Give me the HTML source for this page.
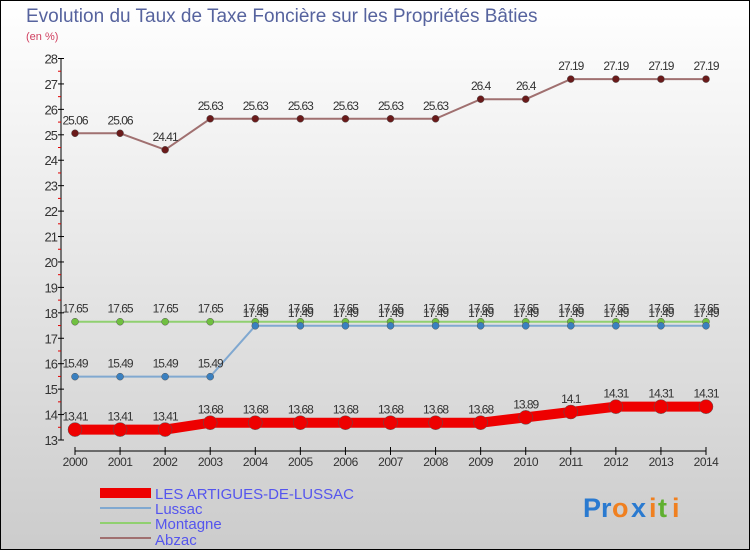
<!DOCTYPE html>
<html><head><meta charset="utf-8"><style>
body{margin:0;padding:0}
#wrap{width:750px;height:550px;position:relative;overflow:hidden}
svg text{font-family:"Liberation Sans",sans-serif}
</style></head><body>
<div id="wrap">
<svg id="chart" width="750" height="550" xmlns="http://www.w3.org/2000/svg">
<defs><linearGradient id="bg" x1="0" y1="0" x2="0" y2="1"><stop offset="0" stop-color="#ffffff"/><stop offset="1" stop-color="#cccccc"/></linearGradient></defs>
<rect x="0.5" y="0.5" width="749" height="549" fill="url(#bg)" stroke="#000"/>
<text x="26" y="22" font-size="19" fill="#56639e">Evolution du Taux de Taxe Foncière sur les Propriétés Bâties</text>
<text x="26" y="40" font-size="11" fill="#d04060">(en %)</text>
<g id="axes"></g><g id="series"></g>
<g>
<rect x="100" y="488" width="51" height="10" fill="#ee0000"/>
<text x="155" y="499" font-size="15" fill="#5555ee">LES ARTIGUES-DE-LUSSAC</text>
<rect x="100" y="507" width="51" height="2" fill="#80a8d0"/>
<text x="155" y="514" font-size="15" fill="#5555ee">Lussac</text>
<rect x="100" y="522" width="51" height="2" fill="#90d070"/>
<text x="155" y="529" font-size="15" fill="#5555ee">Montagne</text>
<rect x="100" y="537" width="51" height="2" fill="#a07070"/>
<text x="155" y="545" font-size="15" fill="#5555ee">Abzac</text>
</g>
<g font-size="27" font-weight="bold">
<text x="583" y="517" fill="#2a7ad0">P</text><text x="601" y="517" fill="#2a7ad0">r</text><text x="612" y="517" fill="#f08020">o</text><text x="631" y="517" fill="#2a7ad0">x</text><text x="649" y="517" fill="#f08020">i</text><text x="658" y="517" fill="#60b030">t</text><text x="672" y="517" fill="#f08020">i</text>
</g>
</svg></div>
<script>
const years=[2000,2001,2002,2003,2004,2005,2006,2007,2008,2009,2010,2011,2012,2013,2014];
const artigues=[13.41,13.41,13.41,13.68,13.68,13.68,13.68,13.68,13.68,13.68,13.89,14.1,14.31,14.31,14.31];
const lussac=[15.49,15.49,15.49,15.49,17.49,17.49,17.49,17.49,17.49,17.49,17.49,17.49,17.49,17.49,17.49];
const montagne=[17.65,17.65,17.65,17.65,17.65,17.65,17.65,17.65,17.65,17.65,17.65,17.65,17.65,17.65,17.65];
const abzac=[25.06,25.06,24.41,25.63,25.63,25.63,25.63,25.63,25.63,26.4,26.4,27.19,27.19,27.19,27.19];
const yTicks=[13,14,15,16,17,18,19,20,21,22,23,24,25,26,27,28];
const NS="http://www.w3.org/2000/svg";
const x=i=>75+i*(706-75)/(years.length-1);
const y=v=>440-(v-13)*(440-58.5)/15;
function mk(tag,attrs,parent){const e=document.createElementNS(NS,tag);for(const k in attrs)e.setAttribute(k,attrs[k]);parent.appendChild(e);return e;}
const ax=document.getElementById('axes');
const yl=mk('line',{x1:61,y1:y(28),x2:61,y2:y(13),stroke:'#000'},ax);


yTicks.forEach(t=>{
 mk('line',{x1:58,x2:64,y1:y(t),y2:y(t),stroke:'#000'},ax);
 if(t<28) mk('line',{x1:58,x2:61,y1:y(t+0.5),y2:y(t+0.5),stroke:'#e00000'},ax);
 const tx=mk('text',{x:57,y:y(t)+5,'font-size':13,'text-anchor':'end',fill:'#333','letter-spacing':'-1'},ax);
 tx.textContent=t;
 
 
});
const xl=mk('line',{x1:x(0),x2:x(14),y1:451,y2:451,stroke:'#000'},ax);


years.forEach((yr,i)=>{
 mk('line',{x1:x(i),x2:x(i),y1:447,y2:455,stroke:'#000'},ax);
 const tx=mk('text',{x:x(i),y:466,'font-size':12,'text-anchor':'middle',fill:'#333','letter-spacing':'-0.5'},ax);
 tx.textContent=yr;
 
 
});
const sg=document.getElementById('series');
function series(vals,name,lc,pc,lw,r,lab){
 const g=mk('g',{},sg);
 
 
 const ln=mk('polyline',{points:vals.map((v,i)=>x(i)+','+y(v)).join(' '),fill:'none',stroke:lc,'stroke-width':lw},g);
 
 
 vals.forEach((v,i)=>{
  const c=mk('circle',{cx:x(i),cy:y(v),r:r,fill:pc,stroke:'#555','stroke-width':0.5},g);
  
  
  if(lab){const t=mk('text',{x:x(i),y:y(v)-9,'font-size':12,'text-anchor':'middle',fill:'#333','letter-spacing':'-1'},g);
  t.textContent=String(v);
  
  }
 });
}
series(abzac,'abzac','#a07070','#6a1a1a',2,3.5,true);
series(montagne,'montagne','#90d070','#70c040',2,3.5,true);
series(lussac,'lussac','#80a8d0','#3a80c0',2,3.5,true);
series(artigues,'artigues','#ee0000','#ee0000',10,7,true);
</script>
</body></html>
